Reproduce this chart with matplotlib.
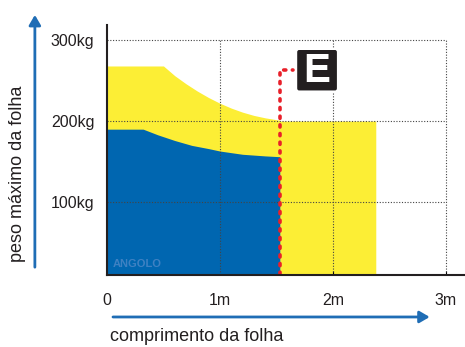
import matplotlib.pyplot as plt
from matplotlib.patches import FancyBboxPatch, FancyArrowPatch

plt.rcParams['font.family'] = ['Liberation Sans', 'DejaVu Sans']

# curva azul (carga mais baixa) e curva amarela (carga mais alta)
blue_x = [0, 0.32, 0.45, 0.6, 0.75, 0.9, 1.0, 1.2, 1.4, 1.53]
blue_y = [190, 190, 183, 176, 170, 166, 163, 159, 157, 156]
yellow_x = [0, 0.5, 0.6, 0.7, 0.8, 0.9, 1.0, 1.1, 1.2, 1.3, 1.4, 1.53, 1.53, 2.38]
yellow_y = [268, 268, 256, 246, 237, 229, 222, 216, 211, 207, 204, 201, 200, 200]

# linha vermelha da marcação E
red_x = [1.53, 1.53, 1.65]
red_y = [0, 263, 263]

x_ticks = [0, 1, 2, 3]
x_labels = ["0", "1m", "2m", "3m"]
y_ticks = [100, 200, 300]
y_labels = ["100kg", "200kg", "300kg"]

BLUE = "#0066B0"
YELLOW = "#FCEE35"
ARROW = "#1F6DB5"

fig = plt.figure(figsize=(4.65, 3.47), dpi=100)
ax = fig.add_axes([0.2301, 0.2075, 0.7699, 0.7205])
ax.set_xlim(0, 3.17)
ax.set_ylim(10, 318.6)

ax.fill_between(yellow_x, 0, yellow_y, color=YELLOW, lw=0, zorder=1)
ax.fill_between(blue_x, 0, blue_y, color=BLUE, lw=0, zorder=2)

# grelha pontilhada so ate 3m / 300kg
ax.hlines(y_ticks, 0, 3, colors="#444444", linestyles=(0, (1, 1.5)), lw=0.8, zorder=3)
ax.vlines(x_ticks[1:], 0, 300, colors="#444444", linestyles=(0, (1, 1.5)), lw=0.8, zorder=3)

ax.plot(red_x, red_y, color="#E8202A", lw=2.6, linestyle=(0, (0.6, 1.8)),
        dash_capstyle="round", zorder=4)

box = FancyBboxPatch((1.675, 236.5), 0.37, 52.5, boxstyle="round,pad=0,rounding_size=0.025",
                     fc="#231F20", ec="white", lw=1.5, zorder=5, mutation_aspect=150)
ax.add_patch(box)
ax.text(1.86, 262, "E", color="white", fontsize=29, fontweight="bold",
        ha="center", va="center", zorder=6)

ax.text(0.055, 20, "ANGOLO", color="#4A86C6", fontsize=8, fontweight="bold",
        alpha=0.85, zorder=4)

for s in ["top", "right"]:
    ax.spines[s].set_visible(False)
for s in ["left", "bottom"]:
    ax.spines[s].set_linewidth(1.5)
    ax.spines[s].set_color("#231F20")
    ax.spines[s].set_zorder(6)

ax.set_xticks(x_ticks)
ax.set_xticklabels(x_labels, fontsize=11.5, color="#231F20")
ax.set_yticks(y_ticks)
ax.set_yticklabels(y_labels, fontsize=11.5, color="#231F20")
ax.tick_params(axis="x", direction="in", length=3, pad=13)
ax.tick_params(axis="y", length=0, pad=9)

# setas dos eixos
fig.patches.append(FancyArrowPatch(
    (0.075, 0.222), (0.075, 0.965), transform=fig.transFigure,
    arrowstyle="-|>,head_length=6,head_width=3.5", color=ARROW, lw=2))
fig.patches.append(FancyArrowPatch(
    (0.237, 0.0865), (0.93, 0.0865), transform=fig.transFigure,
    arrowstyle="-|>,head_length=6,head_width=3.5", color=ARROW, lw=2))

fig.text(0.038, 0.50, "peso máximo da folha", rotation=90, fontsize=13,
         ha="center", va="center", color="#231F20")
fig.text(0.237, 0.006, "comprimento da folha", fontsize=13,
         ha="left", va="bottom", color="#231F20")

fig.savefig("out.png", dpi=100)
